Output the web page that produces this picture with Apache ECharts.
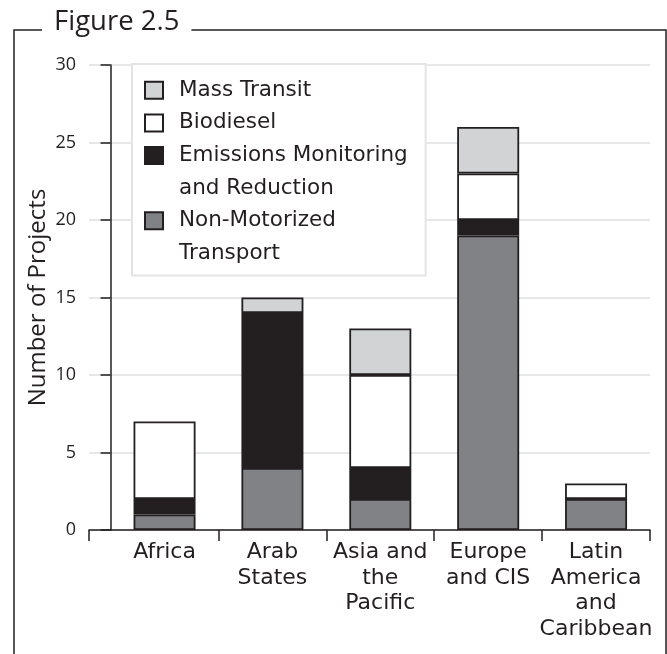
<!DOCTYPE html>
<html>
<head>
<meta charset="utf-8">
<script src="https://cdn.jsdelivr.net/npm/echarts@6/dist/echarts.min.js"></script>
<style>
html,body{margin:0;padding:0;background:#fff;}
#chart{width:667px;height:654px;}
</style>
</head>
<body>
<div id="chart"></div>
<script>
// ---- data ----
const categories = ['Africa', 'Arab\nStates', 'Asia and\nthe\nPacific', 'Europe\nand CIS', 'Latin\nAmerica\nand\nCaribbean'];
const nonMotorized = [1, 4, 2, 19, 2];
const emissions    = [1, 10, 2, 1, 0];
const biodiesel    = [5, 0, 6, 3, 1];
const massTransit  = [0, 1, 3, 3, 0];
const yTicks = [0, 5, 10, 15, 20, 25, 30];

const INK = '#231f20';

function barSeries(name, values, color) {
  return {
    name: name,
    type: 'bar',
    stack: 'total',
    xAxisIndex: 1,
    yAxisIndex: 1,
    barWidth: 62,
    // zero-height segments are left out so they do not draw an extra outline
    data: values.map(v => (v === 0 ? '-' : v)),
    itemStyle: { color: color, borderColor: INK, borderWidth: 1.8 },
    emphasis: { disabled: true }
  };
}

const chart = echarts.init(document.getElementById('chart'), null, { renderer: 'canvas' });
chart.setOption({
  animation: false,
  backgroundColor: '#fff',
  title: {
    text: 'Figure 2.5',
    left: 42,
    top: 8,
    padding: [0, 12],
    backgroundColor: '#fff',
    textStyle: { fontFamily: 'Open Sans', fontSize: 27.5, fontWeight: 'normal', color: INK }
  },
  graphic: [{
    type: 'rect',
    z: -1,
    silent: true,
    shape: { x: 14, y: 30, width: 652, height: 700 },
    style: { fill: 'none', stroke: INK, lineWidth: 1.5 }
  }],
  grid: [
    { left: 89, right: 17, top: 65, bottom: 124, containLabel: false },
    { left: 110.6, right: 17, top: 65, bottom: 124, containLabel: false }
  ],
  legend: {
    orient: 'vertical',
    left: 132,
    top: 64,
    padding: [10, 18, 6, 12],
    itemGap: 0,
    itemWidth: 18,
    itemHeight: 17,
    icon: 'rect',
    backgroundColor: '#fff',
    borderColor: '#e3e4e5',
    borderWidth: 2,
    selectedMode: false,
    z: 10,
    textStyle: { fontFamily: 'DejaVu Sans', fontSize: 21.5, color: INK, lineHeight: 32.6, padding: [0, 0, 0, 11] },
    data: [
      { name: 'Mass Transit' },
      { name: 'Biodiesel' },
      { name: 'Emissions Monitoring' },
      { name: 'and Reduction', icon: 'none' },
      { name: 'Non-Motorized' },
      { name: 'Transport', icon: 'none' }
    ]
  },
  xAxis: [{
    gridIndex: 0,
    type: 'value',
    min: -0.2,
    max: 5,
    splitLine: { show: false },
    axisLine: { show: true, lineStyle: { color: INK, width: 1.5 } },
    axisTick: { show: true, length: 11, customValues: [-0.2, 1, 2, 3, 4, 5], lineStyle: { color: INK, width: 1.5 } },
    axisLabel: { show: false }
  }, {
    gridIndex: 1,
    type: 'category',
    data: categories,
    axisLine: { show: false },
    axisTick: { show: false },
    axisLabel: {
      interval: 0,
      margin: 10,
      fontFamily: 'DejaVu Sans',
      fontSize: 22,
      lineHeight: 25.5,
      color: INK
    }
  }],
  yAxis: [{
    gridIndex: 0,
    type: 'value',
    min: 0,
    max: 30,
    interval: 5,
    name: 'Number of Projects',
    nameLocation: 'middle',
    nameRotate: 90,
    nameGap: 51,
    nameMoveOverlap: false,
    nameTextStyle: { fontFamily: 'Open Sans', fontSize: 24, color: INK, verticalAlign: 'middle' },
    axisLine: { show: true, lineStyle: { color: INK, width: 1.5 } },
    axisTick: { show: true, length: 10, lineStyle: { color: INK, width: 1.5 } },
    axisLabel: {
      margin: 13,
      fontFamily: 'Open Sans',
      fontSize: 18,
      color: INK,
      customValues: yTicks
    },
    splitLine: { show: true, lineStyle: { color: '#e6e7e8', width: 2 } }
  }, {
    gridIndex: 1,
    type: 'value',
    min: 0,
    max: 30,
    interval: 5,
    show: false
  }],
  series: [
    barSeries('Non-Motorized', nonMotorized, '#808285'),
    barSeries('Emissions Monitoring', emissions, INK),
    barSeries('Biodiesel', biodiesel, '#ffffff'),
    barSeries('Mass Transit', massTransit, '#d1d3d4'),
    { name: 'and Reduction', type: 'line', xAxisIndex: 1, yAxisIndex: 1, data: [] },
    { name: 'Transport', type: 'line', xAxisIndex: 1, yAxisIndex: 1, data: [] }
  ]
});
</script>
</body>
</html>
